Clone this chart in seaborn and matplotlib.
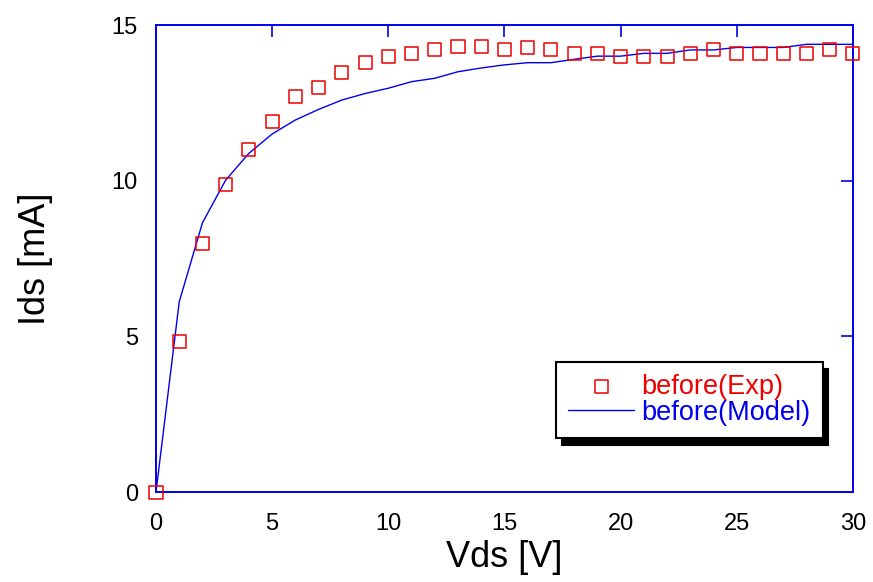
import matplotlib
matplotlib.use('Agg')
import matplotlib.pyplot as plt
import seaborn as sns
import pandas as pd

# measured drain current (symbols)
vds_exp = list(range(0, 31))
ids_exp = [0.0, 4.85, 7.97, 9.89, 10.99, 11.89, 12.69, 12.98, 13.49, 13.81,
           14.0, 14.07, 14.2, 14.3, 14.3, 14.2, 14.28, 14.2, 14.09, 14.09,
           14.0, 14.0, 14.0, 14.09, 14.2, 14.09, 14.09, 14.09, 14.09, 14.2,
           14.09]

# model curve (line)
vds_model = list(range(0, 31))
ids_model = [0.0, 6.11, 8.65, 10.02, 10.88, 11.5, 11.95, 12.29, 12.59, 12.8,
             12.97, 13.18, 13.29, 13.5, 13.62, 13.72, 13.79, 13.79, 13.9, 14.0,
             14.0, 14.09, 14.09, 14.2, 14.2, 14.28, 14.28, 14.28, 14.38, 14.38,
             14.38]

exp_df = pd.DataFrame({'Vds': vds_exp, 'Ids': ids_exp})
model_df = pd.DataFrame({'Vds': vds_model, 'Ids': ids_model})

sns.set_style('white')
plt.rcParams['font.family'] = ['Liberation Sans', 'DejaVu Sans']

blue = '#0000ee'
red = '#ee0000'

fig = plt.figure(figsize=(8.73, 5.82), dpi=100)
ax = fig.add_axes([0.1787, 0.1546, 0.977 - 0.1787, 0.957 - 0.1546])

sns.lineplot(data=model_df, x='Vds', y='Ids', color=blue, linewidth=1.0,
             ax=ax, label='before(Model)', zorder=2)
sns.scatterplot(data=exp_df, x='Vds', y='Ids', marker='s', s=88,
                facecolor='none', edgecolor=red, linewidth=1.1,
                ax=ax, label='before(Exp)', clip_on=False, zorder=3)

ax.set_xlim(0, 30)
ax.set_ylim(0, 15)
ax.set_xticks([0, 5, 10, 15, 20, 25, 30])
ax.set_yticks([0, 5, 10, 15])

for sp in ax.spines.values():
    sp.set_color(blue)
    sp.set_linewidth(1.4)
ax.tick_params(direction='in', length=8.5, width=1.2, color=blue,
               top=True, right=True, labelsize=17, labelcolor='black')
ax.tick_params(axis='x', pad=15)
ax.tick_params(axis='y', pad=13)

ax.set_xlabel('Vds [V]', fontsize=26, labelpad=4, color='black')
ax.set_ylabel('Ids [mA]', fontsize=26, labelpad=42, color='black')

# legend: symbol first, then line
handles, labels = ax.get_legend_handles_labels()
order = [labels.index('before(Exp)'), labels.index('before(Model)')]
leg = ax.legend([handles[i] for i in order], [labels[i] for i in order],
                loc='lower right', bbox_to_anchor=(0.9565, 0.1156),
                borderaxespad=0, fontsize=19.5, frameon=True, fancybox=False,
                shadow={'ox': 4, 'oy': -5, 'color': 'black', 'alpha': 1},
                handlelength=2.44, handletextpad=0.26, labelspacing=0.0,
                borderpad=0.45)
leg.get_frame().set_edgecolor('black')
leg.get_frame().set_linewidth(1.5)
leg.get_frame().set_alpha(1)
for txt, c in zip(leg.get_texts(), [red, blue]):
    txt.set_color(c)

fig.savefig('out.png', dpi=100)
